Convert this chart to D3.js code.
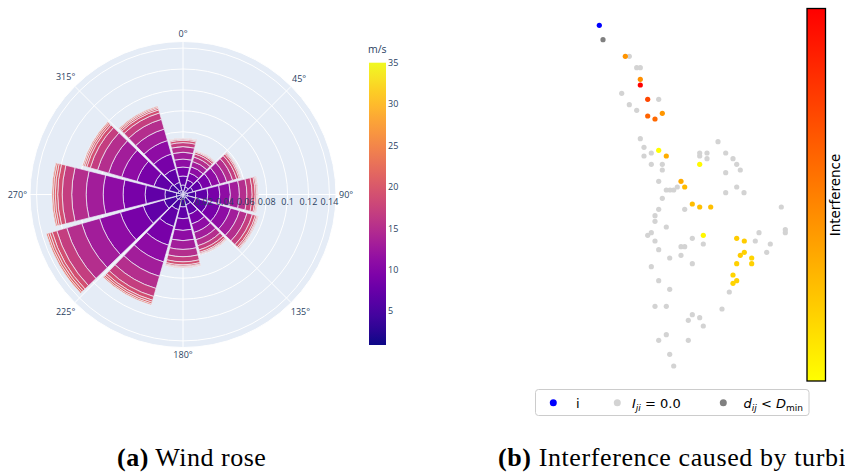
<!DOCTYPE html>
<html><head><meta charset="utf-8">
<script src="https://cdn.jsdelivr.net/npm/d3@7"></script>
<style>body{margin:0;background:#fff;} svg{display:block}</style>
</head><body>
<svg id="c" width="845" height="473"></svg>
<script>
// ---------- (a) Wind rose data ----------
const directions = [0, 30, 60, 90, 120, 150, 180, 210, 240, 270, 300, 330];
const speedBins = [3, 5, 7, 9, 11, 13, 15, 17, 19, 20, 21, 22]; // m/s, colour value of each stacked segment
const freq000 = [0.0032, 0.0059, 0.0086, 0.0086, 0.0076, 0.0065, 0.0054, 0.0038, 0.0022, 0.0011, 0.0006, 0.0004];
const freq030 = [0.0026, 0.0048, 0.0070, 0.0070, 0.0062, 0.0053, 0.0044, 0.0031, 0.0018, 0.0009, 0.0005, 0.0004];
const freq060 = [0.0035, 0.0064, 0.0093, 0.0093, 0.0081, 0.0070, 0.0058, 0.0041, 0.0023, 0.0012, 0.0007, 0.0005];
const freq090 = [0.0043, 0.0079, 0.0115, 0.0115, 0.0101, 0.0086, 0.0072, 0.0050, 0.0029, 0.0014, 0.0009, 0.0006];
const freq120 = [0.0045, 0.0083, 0.0120, 0.0120, 0.0105, 0.0090, 0.0075, 0.0053, 0.0030, 0.0015, 0.0009, 0.0006];
const freq150 = [0.0036, 0.0066, 0.0096, 0.0096, 0.0084, 0.0072, 0.0060, 0.0042, 0.0024, 0.0012, 0.0007, 0.0005];
const freq180 = [0.0042, 0.0077, 0.0112, 0.0112, 0.0098, 0.0084, 0.0070, 0.0049, 0.0028, 0.0014, 0.0008, 0.0006];
const freq210 = [0.0055, 0.0097, 0.0167, 0.0185, 0.0167, 0.0143, 0.0121, 0.0080, 0.0037, 0.0020, 0.0017, 0.0011];
const freq240 = [0.0068, 0.0120, 0.0207, 0.0228, 0.0207, 0.0177, 0.0150, 0.0099, 0.0046, 0.0024, 0.0020, 0.0014];
const freq270 = [0.0063, 0.0110, 0.0190, 0.0210, 0.0190, 0.0163, 0.0138, 0.0091, 0.0043, 0.0023, 0.0019, 0.0013];
const freq300 = [0.0050, 0.0088, 0.0152, 0.0168, 0.0152, 0.0130, 0.0110, 0.0073, 0.0034, 0.0018, 0.0015, 0.0010];
const freq330 = [0.0044, 0.0077, 0.0134, 0.0148, 0.0134, 0.0114, 0.0097, 0.0064, 0.0030, 0.0016, 0.0013, 0.0009];
const frequencies = [freq000, freq030, freq060, freq090, freq120, freq150, freq180, freq210, freq240, freq270, freq300, freq330];
const radialTicks = [0, 0.02, 0.04, 0.06, 0.08, 0.1, 0.12, 0.14];
const radialMax = 0.1463;
const angleTicks = [0, 45, 90, 135, 180, 225, 270, 315];
const speedTicks = [5, 10, 15, 20, 25, 30, 35];
const speedRange = [0.9, 35];

// ---------- (b) Interference data (turbine coordinates) ----------
const turbineI = [[9.3, 354.7]];
const tooClose = [[13, 340.3]];
const zeroX = [39.3,46.7,50.3,31.7,68.7,39.3,46.7,50.3,54,54,61.3,61.3,72.3,72.3,128,109.7,109.7,117,117,135.7,143,146.7,150.3,135.7,68.7,76.3,80,83.7,87.3,72.3,146.7,135.7,154,68.7,94.7,191.3,
  65,65,76.3,57.7,61.3,65,68.7,102.3,113.3,91,94.7,91,79.7,102.3,61.3,165.3,169,180.3,176.7,195.3,195.3,139.3,132,68.7,79.7,65,76.3,102.3,98.3,109.7,113.3,76.3,68.7,98.3,79.7,83.7];
const zeroY = [323.7,312.3,312.3,286.7,280.7,275.3,269.7,241.3,232.7,224,227,215.7,215.7,210,238.3,227,224,227,221.3,227,221.3,215.7,210,207.3,198.7,190,190,190,193,181.7,193,187.3,187.3,170.7,170.7,173,
  164.3,158.7,153,144.7,147.3,139,130.3,141.7,136,133.3,133.3,124.7,122,116.3,113.3,139,147.3,136,127.7,150.3,147.3,88,71,99.3,90.7,73.7,73.7,65.3,59.7,62.3,54,45.3,39.7,39.7,25.7,14];
const hitX = [35.3,50.3,50.3,57.7,72.3,57.7,65,68.7,76.3,109.7,91,94.7,102.3,109.7,120.7,113.3,146.7,154.3,154.3,150.3,161.7,146.7,161.7,143,146.7,143];
const hitY = [323.7,300.7,295,280.7,266.7,264,261,229.7,224,215.7,198.7,193,176,173,173,144.7,141.7,139,127.7,124.7,122,116.3,116.3,105,99.3,96.7];
const hitI = [0.42,0.44,1.0,0.72,0.41,0.61,0.59,0.0,0.32,0.02,0.33,0.27,0.26,0.25,0.25,0.03,0.2,0.2,0.18,0.2,0.17,0.18,0.18,0.17,0.18,0.17];

const svg = d3.select('#c');
const tickColor = '#2a3f5f';

// ===== Wind rose =====
const cx = 183, cy = 194.5, R = 153;
const rScale = d3.scaleLinear().domain([0, radialMax]).range([0, R]);
const color = d3.scaleSequential(d3.interpolatePlasma).domain(speedRange);
const g = svg.append('g').attr('transform', `translate(${cx},${cy})`);
g.append('circle').attr('r', R).attr('fill', '#E5ECF6');
radialTicks.filter(v => v > 0).forEach(v => {
  g.append('circle').attr('r', rScale(v)).attr('fill', 'none').attr('stroke', '#fff').attr('stroke-width', 1);
});
angleTicks.forEach(a => {
  const rad = a * Math.PI / 180;
  g.append('line').attr('x1', 0).attr('y1', 0)
    .attr('x2', R * Math.sin(rad)).attr('y2', -R * Math.cos(rad))
    .attr('stroke', '#fff').attr('stroke-width', 1);
});
g.append('circle').attr('r', R).attr('fill', 'none').attr('stroke', '#fff').attr('stroke-width', 1);

const arc = d3.arc();
const halfWidth = 14 * Math.PI / 180;
frequencies.forEach((row, i) => {
  const th = directions[i] * Math.PI / 180;
  let acc = 0;
  row.forEach((f, j) => {
    g.append('path')
      .attr('d', arc({innerRadius: rScale(acc), outerRadius: rScale(acc + f), startAngle: th - halfWidth, endAngle: th + halfWidth}))
      .attr('fill', color(speedBins[j]))
      .attr('stroke', '#eef2f9').attr('stroke-width', 0.7);
    acc += f;
  });
});

// radial tick labels
radialTicks.forEach(v => {
  g.append('text').attr('x', rScale(v)).attr('y', 10.5)
    .attr('text-anchor', 'middle').attr('font-family', 'Open Sans').attr('font-size', 9)
    .attr('fill', tickColor).text(v === 0 ? '0' : String(v));
});
// angular tick labels
angleTicks.forEach(a => {
  const rad = a * Math.PI / 180, s = Math.sin(rad), c = Math.cos(rad);
  const t = g.append('text').attr('text-anchor', 'middle').attr('dy', '0.35em')
    .attr('font-family', 'Open Sans').attr('font-size', 9).attr('fill', tickColor).text(a + '°');
  const w = t.node().getComputedTextLength();
  const rr = 156 + Math.abs(s) * w / 2 + Math.abs(c) * 4.5;
  t.attr('x', rr * s).attr('y', -rr * c);
});

// colour bar
const defs = svg.append('defs');
const lg = defs.append('linearGradient').attr('id', 'plasma').attr('x1', 0).attr('y1', 1).attr('x2', 0).attr('y2', 0);
d3.range(0, 1.0001, 0.05).forEach(t => lg.append('stop').attr('offset', t).attr('stop-color', d3.interpolatePlasma(t)));
const cbScale = d3.scaleLinear().domain(speedRange).range([345, 62.7]);
svg.append('rect').attr('x', 369).attr('y', cbScale(speedRange[1])).attr('width', 17)
  .attr('height', cbScale(speedRange[0]) - cbScale(speedRange[1])).attr('fill', 'url(#plasma)');
const cbAxis = svg.append('g').attr('transform', 'translate(386,0)')
  .call(d3.axisRight(cbScale).tickValues(speedTicks).tickSize(0).tickPadding(2));
cbAxis.select('.domain').remove();
cbAxis.selectAll('text').attr('font-family', 'Open Sans').attr('font-size', 9).attr('fill', tickColor);
svg.append('text').attr('x', 368).attr('y', 53).attr('font-family', 'Open Sans').attr('font-size', 10.5)
  .attr('fill', tickColor).text('m/s');

// ===== Interference scatter =====
const xS = d3.scaleLinear().domain([0, 200]).range([590, 790]);
const yS = d3.scaleLinear().domain([0, 360]).range([380, 20]);
const interf = d3.scaleLinear().domain([0, 1]).range(['#ffff00', '#ff0000']).interpolate(d3.interpolateRgb);
const sc = svg.append('g');
sc.selectAll('.z').data(d3.range(zeroX.length)).join('circle')
  .attr('cx', i => xS(zeroX[i])).attr('cy', i => yS(zeroY[i])).attr('r', 2.6).attr('fill', '#d3d3d3');
sc.selectAll('.h').data(d3.range(hitX.length)).join('circle')
  .attr('cx', i => xS(hitX[i])).attr('cy', i => yS(hitY[i])).attr('r', 2.6).attr('fill', i => interf(hitI[i]));
sc.selectAll('.b').data(turbineI).join('circle')
  .attr('cx', d => xS(d[0])).attr('cy', d => yS(d[1])).attr('r', 2.6).attr('fill', '#0000ff');
sc.selectAll('.d').data(tooClose).join('circle')
  .attr('cx', d => xS(d[0])).attr('cy', d => yS(d[1])).attr('r', 2.6).attr('fill', '#808080');

// interference colour bar
const lg2 = defs.append('linearGradient').attr('id', 'autumn').attr('x1', 0).attr('y1', 1).attr('x2', 0).attr('y2', 0);
lg2.append('stop').attr('offset', 0).attr('stop-color', interf(0));
lg2.append('stop').attr('offset', 1).attr('stop-color', interf(1));
svg.append('rect').attr('x', 807).attr('y', 8.5).attr('width', 18.5).attr('height', 372.5)
  .attr('fill', 'url(#autumn)').attr('stroke', '#000').attr('stroke-width', 1.3);
svg.append('text').attr('transform', 'translate(839.5,195) rotate(-90)').attr('text-anchor', 'middle')
  .attr('font-family', 'DejaVu Sans').attr('font-size', 13.5).attr('fill', '#000').text('Interference');

// legend
const lgd = svg.append('g');
lgd.append('rect').attr('x', 535.5).attr('y', 389.5).attr('width', 273.5).attr('height', 26).attr('rx', 3)
  .attr('fill', '#fff').attr('stroke', '#cccccc').attr('stroke-width', 1);
const legendItems = [
  {c: '#0000ff', x: 553.3},
  {c: '#d3d3d3', x: 617.3},
  {c: '#808080', x: 723.3}
];
legendItems.forEach(d => lgd.append('circle').attr('cx', d.x).attr('cy', 402.7).attr('r', 3.5).attr('fill', d.c));
const lf = {family: 'DejaVu Sans', size: 13};
lgd.append('text').attr('x', 576).attr('y', 407.5).attr('font-family', lf.family).attr('font-size', lf.size).text('i');
const t2 = lgd.append('text').attr('x', 632).attr('y', 407.5).attr('font-family', lf.family).attr('font-size', lf.size);
t2.append('tspan').attr('font-style', 'italic').text('I');
t2.append('tspan').attr('font-style', 'italic').attr('font-size', 9).attr('dy', 3).text('ji');
t2.append('tspan').attr('dy', -3).text(' = 0.0');
const t3 = lgd.append('text').attr('x', 743.5).attr('y', 407.5).attr('font-family', lf.family).attr('font-size', lf.size);
t3.append('tspan').attr('font-style', 'italic').text('d');
t3.append('tspan').attr('font-style', 'italic').attr('font-size', 9).attr('dy', 3).text('ij');
t3.append('tspan').attr('dy', -3).text(' < ');
t3.append('tspan').attr('font-style', 'italic').text('D');
t3.append('tspan').attr('font-size', 9).attr('dy', 3).text('min');

// captions
const capA = svg.append('text').attr('x', 117).attr('y', 466).attr('font-family', 'Liberation Serif')
  .attr('font-size', 26).attr('letter-spacing', 0.5).attr('fill', '#000');
capA.append('tspan').attr('font-weight', 'bold').text('(a)');
capA.append('tspan').text(' Wind rose');
const capB = svg.append('text').attr('x', 498).attr('y', 466).attr('font-family', 'Liberation Serif')
  .attr('font-size', 26).attr('letter-spacing', 0.6).attr('fill', '#000');
capB.append('tspan').attr('font-weight', 'bold').text('(b)');
capB.append('tspan').text(' Interference caused by turbi');
</script>
</body></html>
